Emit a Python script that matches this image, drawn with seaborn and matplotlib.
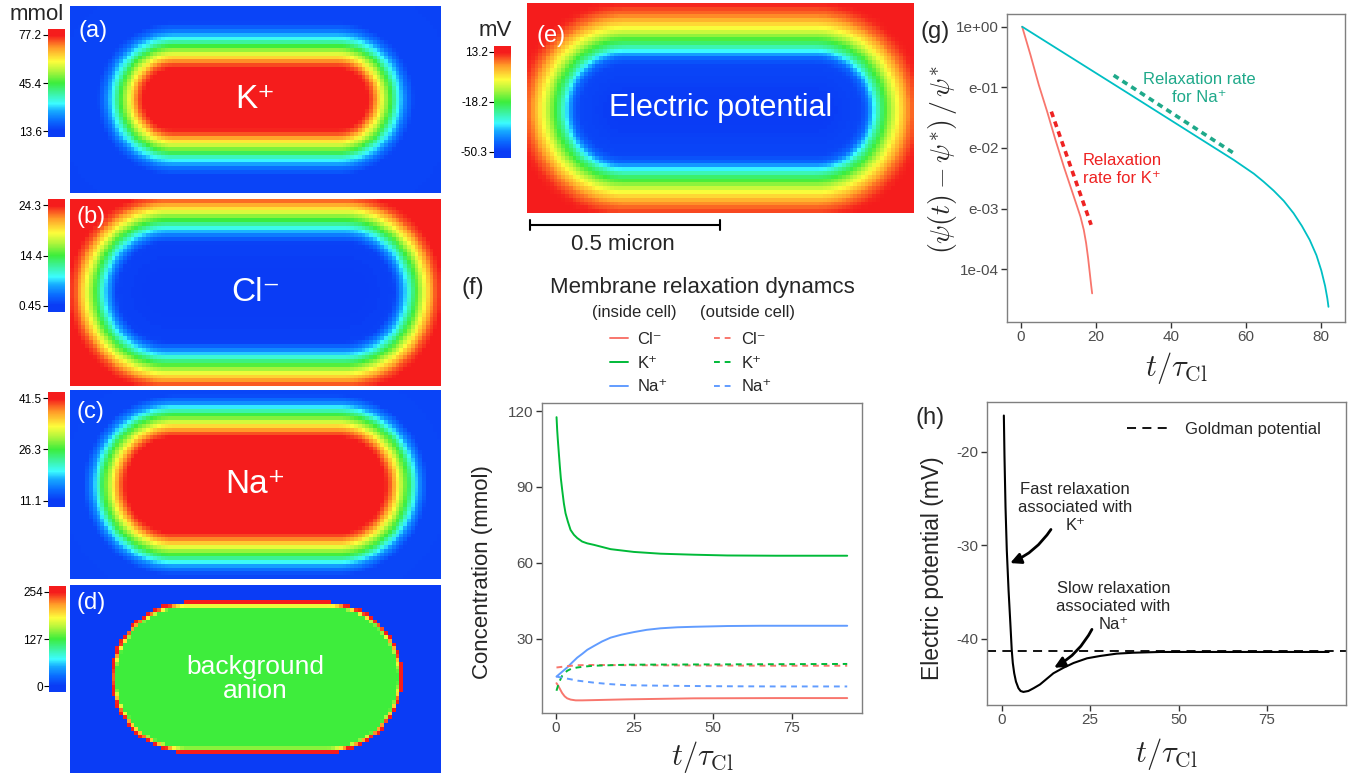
#!/usr/bin/env python3

# Membrane relaxation figure: ion / potential fields plus relaxation curves.

import numpy as np
import matplotlib
matplotlib.use("Agg")
import matplotlib.pyplot as plt
from matplotlib.colors import LinearSegmentedColormap
import seaborn as sns

sns.set_theme(style="white")
plt.rcParams["font.family"] = ["Liberation Sans", "DejaVu Sans"]
plt.rcParams["mathtext.fontset"] = "cm"
plt.rcParams["axes.unicode_minus"] = False

W, H = 1350, 775

# field profiles: distance from the cell axis (px) -> value
k_dist = [0, 30, 36, 41, 47, 53, 58, 63, 69, 76, 400]
k_vals = [77.2, 77.0, 72.0, 64.0, 54.5, 45.4, 36.3, 29.3, 21.0, 15.3, 13.6]
cl_dist = [0, 50, 56, 62, 68, 73, 79, 85, 92, 100, 400]
cl_vals = [0.45, 0.93, 3.3, 6.4, 10.0, 12.9, 16.2, 19.5, 22.6, 24.3, 24.3]
na_dist = [0, 48, 53, 58, 64, 70, 76, 82, 90, 400]
na_vals = [41.5, 41.2, 39.0, 35.5, 30.5, 26.3, 21.0, 16.0, 12.0, 11.1]
bg_dist = [0, 70, 72, 73.5, 75.3, 75.31, 400]
bg_vals = [127, 127, 200, 254, 254, 0, 0]
psi_dist = [0, 45, 52, 58, 64, 70, 78, 86, 95, 105, 115, 400]
psi_vals = [-50.3, -48.4, -44.0, -34.4, -24.9, -18.2, -9.0, -0.8, 6.9, 11.9, 13.2, 13.2]

# colorbar labels (min, middle, max)
k_ticks = ["13.6", "45.4", "77.2"]
cl_ticks = ["0.45", "14.4", "24.3"]
na_ticks = ["11.1", "26.3", "41.5"]
bg_ticks = ["0", "127", "254"]
psi_ticks = ["-50.3", "-18.2", "13.2"]

# (f) concentrations (mmol) vs t / tau_Cl
cl_in_t = [0.3, 0.85, 1.4, 2.1, 2.9, 3.7, 4.8, 6.4, 8.5, 12.2, 22.8, 44, 70, 92.7]
cl_in = [12.4, 11.4, 10.1, 8.5, 7.2, 6.4, 5.9, 5.6, 5.6, 5.7, 6.0, 6.4, 6.5, 6.5]
k_in_t = [0.32, 0.53, 0.74, 1.06, 1.38, 1.69, 2.12, 2.65, 3.18, 3.92, 4.78, 5.83, 6.89, 8.47,
          10.06, 12.2, 17.5, 24.9, 33.4, 44.0, 54.6, 70, 92.7]
k_in = [117.6, 112.4, 108.5, 103.2, 98.0, 93.4, 88.8, 83.5, 79.6, 76.3, 73.0, 71.1, 69.8, 68.4,
        67.7, 67.1, 65.4, 64.3, 63.6, 63.2, 62.9, 62.8, 62.8]
na_in_t = [0.3, 2, 3.7, 5.3, 6.9, 8.5, 10.1, 12.2, 14.8, 17.5, 21, 24.9, 29, 33.4, 38.7, 44, 54.6, 65, 92.7]
na_in = [15.0, 16.8, 18.6, 20.6, 22.5, 24.0, 25.6, 27.1, 28.9, 30.4, 31.6, 32.6, 33.5, 34.1, 34.5,
         34.7, 35.0, 35.1, 35.1]
cl_out_t = [0.3, 3.7, 6.9, 12.2, 22.8, 44, 70, 92.7]
cl_out = [18.6, 19.1, 19.5, 19.6, 19.5, 19.4, 19.3, 19.3]
k_out_t = [0.3, 1.1, 2.1, 3.7, 5.0, 6.9, 9.5, 12.2, 22.8, 44, 70, 92.7]
k_out = [9.4, 12.7, 15.3, 17.3, 18.1, 18.6, 19.0, 19.3, 19.7, 19.8, 19.9, 20.0]
na_out_t = [0.3, 3.7, 7, 12.2, 17.5, 22.8, 33.4, 50, 70, 92.7]
na_out = [15.0, 14.2, 13.4, 12.6, 12.0, 11.6, 11.4, 11.2, 11.1, 11.1]
ion_labels = ["Cl\u207b", "K\u207a", "Na\u207a"]

# (g) normalised potential deviation, log scale
gk_t = [0.44, 2.66, 4.88, 7.10, 9.31, 11.53, 13.75, 15.08, 15.96, 16.85, 17.47, 18.0, 18.45, 18.8, 19.07]
gk = [1.0, 0.341, 0.109, 0.0397, 0.01355, 4.92e-3, 1.905e-3, 1.08e-3, 7.38e-4, 4.45e-4, 2.69e-4,
      1.52e-4, 8.6e-5, 5.5e-5, 4.0e-5]
gna_t = [0.44, 28.4, 56.8, 59.4, 62.1, 64.7, 67.4, 70.1, 72.7, 74.9, 77.0, 78.8, 80.1, 81.1, 81.7, 82.0]
gna = [1.0, 0.0817, 6.34e-3, 4.92e-3, 3.78e-3, 2.79e-3, 1.98e-3, 1.34e-3, 8.4e-4, 5.2e-4, 3.05e-4,
       1.70e-4, 9.5e-5, 5.3e-5, 3.3e-5, 2.4e-5]
rate_na_t = [24.8, 57.2]
rate_na = [0.158, 7.9e-3]
rate_k_t = [8.2, 18.8]
rate_k = [0.0398, 5.4e-4]
g_yticks = [1, 0.1, 0.01, 0.001, 1e-4]
g_ylabels = ["1e+00", "e-01", "e-02", "e-03", "1e-04"]

# (h) electric potential (mV)
h_t = [0.57, 0.75, 1.04, 1.4, 1.9, 2.4, 2.8, 3.1, 3.5, 4.0, 4.7, 5.3, 6.1, 7.5, 9.0, 10.8, 12.7,
       14.6, 17.5, 20.3, 24.1, 27.8, 32.5, 37.3, 44.8, 56.1, 92.5]
h_psi = [-16.1, -20.5, -25.9, -30.5, -34.8, -38.3, -41.2, -42.6, -43.7, -44.6, -45.3, -45.6, -45.7,
         -45.6, -45.3, -44.9, -44.3, -43.7, -43.1, -42.6, -42.1, -41.85, -41.6, -41.5, -41.42,
         -41.42, -41.42]
goldman = -41.3

rainbow = LinearSegmentedColormap.from_list(
    "rainbow_field",
    [(0.0, "#0a3cf5"), (0.06, "#0a3cf5"), (0.15, "#0a6cff"), (0.24, "#16aaff"), (0.31, "#3cfcff"),
     (0.41, "#3cf29a"), (0.50, "#3ced3c"), (0.61, "#b0f53c"), (0.70, "#fdfd3c"),
     (0.83, "#ff9a28"), (0.94, "#f51c1c"), (1.0, "#f51c1c")],
)

fig = plt.figure(figsize=(13.5, 7.75), dpi=100)


def rect(l, t, r, b):
    return [l / W, 1 - b / H, (r - l) / W, (b - t) / H]


def field(box, cx, cy, half_len, dist, vals, cell=3.8):
    w, h = box[2] - box[0], box[3] - box[1]
    nx, ny = int(round(w / cell)), int(round(h / cell))
    xs = (np.arange(nx) + 0.5) * w / nx
    ys = (np.arange(ny) + 0.5) * h / ny
    xx, yy = np.meshgrid(xs, ys)
    dx = np.clip(np.abs(xx - (cx - box[0])) - half_len, 0, None)
    return np.interp(np.hypot(dx, yy - (cy - box[1])), dist, vals)


def field_panel(box, cbox, grid, ticks, name, tag, tag_xy, name_size=24):
    ax = fig.add_axes(rect(*box))
    cax = fig.add_axes(rect(*cbox))
    lo, hi = float(ticks[0]), float(ticks[-1])
    pad = 0.06 * (hi - lo)
    sns.heatmap(grid, ax=ax, cmap=rainbow, vmin=lo - pad, vmax=hi + pad, cbar_ax=cax,
                xticklabels=False, yticklabels=False)
    for s in ax.spines.values():
        s.set_visible(False)
    cb = ax.collections[0].colorbar
    cb.outline.set_visible(False)
    cb.set_ticks([lo, (lo + hi) / 2, hi], labels=ticks)
    cax.yaxis.set_ticks_position("left")
    cax.tick_params(axis="y", left=True, right=False, labelleft=True, labelright=False,
                    length=3.5, width=0.8, color="black", labelcolor="black", labelsize=8.5, pad=1)
    ax.text(0.5, 0.5, name, transform=ax.transAxes, color="white", ha="center",
            va="center", fontsize=name_size, linespacing=1.05)
    fig.text(tag_xy[0] / W, 1 - tag_xy[1] / H, tag, color="white", ha="left",
             va="center", fontsize=17)
    return ax


def style_axes(ax):
    for s in ax.spines.values():
        s.set_visible(True)
        s.set_color("#7f7f7f")
        s.set_linewidth(1.0)
    ax.tick_params(bottom=True, left=True, length=4, width=1.0, color="#333333",
                   labelcolor="#4d4d4d", labelsize=11, pad=2)
    ax.set_xlabel("")
    ax.set_ylabel("")
    ax.grid(False)


# ---- (a)-(d) ion maps, (e) potential map ----
box_a = (70, 6, 441, 193)
box_b = (70, 199, 441, 386)
box_c = (70, 390, 441, 579)
box_d = (70, 585, 441, 773)
box_e = (527, 3, 914, 213)

field_panel(box_a, (48, 29, 65, 137), field(box_a, 255.5, 99, 82, k_dist, k_vals),
            k_ticks, "K\u207a", "(a)", (78, 31))
field_panel(box_b, (48, 199, 65, 312), field(box_b, 255.5, 292, 88, cl_dist, cl_vals),
            cl_ticks, "Cl\u207b", "(b)", (77, 217))
field_panel(box_c, (48, 392, 65, 507), field(box_c, 255.5, 485, 82, na_dist, na_vals),
            na_ticks, "Na\u207a", "(c)", (77, 412))
field_panel(box_d, (49, 586, 66, 692), field(box_d, 257, 677.5, 70.5, bg_dist, bg_vals),
            bg_ticks, "background\nanion", "(d)", (76, 603), name_size=19)
ax_e = field_panel(box_e, (494, 46, 511, 158), field(box_e, 720, 110, 95, psi_dist, psi_vals),
                   psi_ticks, "Electric potential", "(e)", (536, 36), name_size=22)

fig.text(37 / W, 1 - 15 / H, "mmol", ha="center", va="center", fontsize=16)
fig.text(495 / W, 1 - 30 / H, "mV", ha="center", va="center", fontsize=16)

# scale bar under (e)
ax_e.annotate("", xy=((720 - 527) / 387, -12 / 210), xytext=((530 - 527) / 387, -12 / 210),
              xycoords="axes fraction", annotation_clip=False,
              arrowprops=dict(arrowstyle="|-|, widthA=0.3, widthB=0.3", lw=1.5,
                              color="black", shrinkA=0, shrinkB=0))
fig.text(623 / W, 1 - 245 / H, "0.5 micron", ha="center", va="center", fontsize=16)

# ---- (f) concentrations ----
ion_colors = ["#F8766D", "#00BA38", "#619CFF"]
ax_f = fig.add_axes(rect(542, 403, 862, 713))
inside = [(cl_in_t, cl_in), (k_in_t, k_in), (na_in_t, na_in)]
outside = [(cl_out_t, cl_out), (k_out_t, k_out), (na_out_t, na_out)]
for (t, c), col, lab in zip(inside, ion_colors, ion_labels):
    sns.lineplot(x=t, y=c, ax=ax_f, color=col, lw=1.4, label=lab)
for (t, c), col, lab in zip(outside, ion_colors, ion_labels):
    sns.lineplot(x=t, y=c, ax=ax_f, color=col, lw=1.4, label=lab)
    ax_f.get_lines()[-1].set_dashes((3, 2.5))
style_axes(ax_f)
ax_f.set_xlim(-4.3, 97.4)
ax_f.set_ylim(0.6, 123.2)
ax_f.set_xticks([0, 25, 50, 75])
ax_f.set_yticks([30, 60, 90, 120])
lines = ax_f.get_lines()
leg_kw = dict(loc="upper left", bbox_transform=fig.transFigure, frameon=False, borderpad=0,
              borderaxespad=0, handlelength=1.1, handletextpad=0.55, labelspacing=0.52,
              fontsize=12)
leg1 = ax_f.legend(lines[:3], ion_labels, bbox_to_anchor=(610 / W, 1 - 332 / H), **leg_kw)
ax_f.add_artist(leg1)
ax_f.legend(lines[3:], ion_labels, bbox_to_anchor=(714 / W, 1 - 332 / H), **leg_kw)
fig.text(702 / W, 1 - 287 / H, "Membrane relaxation dynamcs", ha="center", va="center", fontsize=16)
fig.text(634 / W, 1 - 313 / H, "(inside cell)", ha="center", va="center", fontsize=12)
fig.text(748 / W, 1 - 313 / H, "(outside cell)", ha="center", va="center", fontsize=12)
fig.text(473 / W, 1 - 288 / H, "(f)", ha="center", va="center", fontsize=17)
fig.text(483 / W, 1 - 572 / H, "Concentration (mmol)", rotation=90, ha="center", va="center", fontsize=16)
fig.text(702 / W, 1 - 757 / H, r"$t/\tau_{\rm Cl}$", ha="center", va="center", fontsize=22)

# ---- (g) relaxation rates ----
ax_g = fig.add_axes(rect(1007, 14, 1345, 322))
sns.lineplot(x=gk_t, y=gk, ax=ax_g, color="#F8766D", lw=1.3)
sns.lineplot(x=gna_t, y=gna, ax=ax_g, color="#00BFC4", lw=1.3)
sns.lineplot(x=rate_k_t, y=rate_k, ax=ax_g, color="#ee2222", lw=2.6)
ax_g.get_lines()[-1].set_dashes((1.6, 1.3))
sns.lineplot(x=rate_na_t, y=rate_na, ax=ax_g, color="#1fa98a", lw=2.6)
ax_g.get_lines()[-1].set_dashes((1.6, 1.3))
ax_g.set_yscale("log")
style_axes(ax_g)
ax_g.set_xlim(-3.6, 86.4)
ax_g.set_ylim(10 ** -4.87, 10 ** 0.21)
ax_g.set_xticks([0, 20, 40, 60, 80])
ax_g.set_yticks(g_yticks, labels=g_ylabels)
ax_g.minorticks_off()
ax_g.text(47.6, 0.095, "Relaxation rate\nfor Na\u207a", color="#1fa98a", ha="center",
          va="center", fontsize=12, linespacing=1.25)
ax_g.text(27.1, 0.0044, "Relaxation\nrate for K\u207a", color="#ee2222", ha="center",
          va="center", multialignment="left", fontsize=12, linespacing=1.25)
fig.text(935 / W, 1 - 32 / H, "(g)", ha="center", va="center", fontsize=17)
fig.text(942 / W, 1 - 160 / H, r"$(\psi(t)-\psi^{*})\,/\,\psi^{*}$", rotation=90,
         ha="center", va="center", fontsize=20)
fig.text(1176 / W, 1 - 368 / H, r"$t/\tau_{\rm Cl}$", ha="center", va="center", fontsize=22)

# ---- (h) electric potential ----
ax_h = fig.add_axes(rect(987, 402, 1346, 705))
sns.lineplot(x=h_t, y=h_psi, ax=ax_h, color="black", lw=1.5)
gold = ax_h.axhline(goldman, color="black", lw=1.3, dashes=(5, 3.5), label="Goldman potential")
style_axes(ax_h)
ax_h.set_xlim(-4.2, 97.4)
ax_h.set_ylim(-47.1, -14.65)
ax_h.set_xticks([0, 25, 50, 75])
ax_h.set_yticks([-40, -30, -20])
ax_h.legend([gold], ["Goldman potential"], loc="upper left", bbox_to_anchor=(1127 / W, 1 - 422 / H),
            bbox_transform=fig.transFigure, frameon=False, borderpad=0, borderaxespad=0,
            handlelength=2.6, handletextpad=0.9, fontsize=12)
ax_h.text(20.8, -25.9, "Fast relaxation\nassociated with\nK\u207a", ha="center", va="center",
          fontsize=12, linespacing=1.25)
ax_h.text(31.6, -36.5, "Slow relaxation\nassociated with\nNa\u207a", ha="center", va="center",
          fontsize=12, linespacing=1.25)
arrow = dict(arrowstyle="-|>", color="black", lw=2.0, mutation_scale=16,
             connectionstyle="arc3,rad=-0.15", shrinkA=0, shrinkB=0)
ax_h.annotate("", xy=(2.36, -31.9), xytext=(13.9, -28.3), arrowprops=arrow)
ax_h.annotate("", xy=(14.8, -43.1), xytext=(25.5, -39.0), arrowprops=arrow)
fig.text(930 / W, 1 - 418 / H, "(h)", ha="center", va="center", fontsize=17)
fig.text(933 / W, 1 - 568 / H, "Electric potential (mV)", rotation=90, ha="center", va="center", fontsize=16.5)
fig.text(1166 / W, 1 - 754 / H, r"$t/\tau_{\rm Cl}$", ha="center", va="center", fontsize=22)

fig.savefig("out.png", dpi=100)
